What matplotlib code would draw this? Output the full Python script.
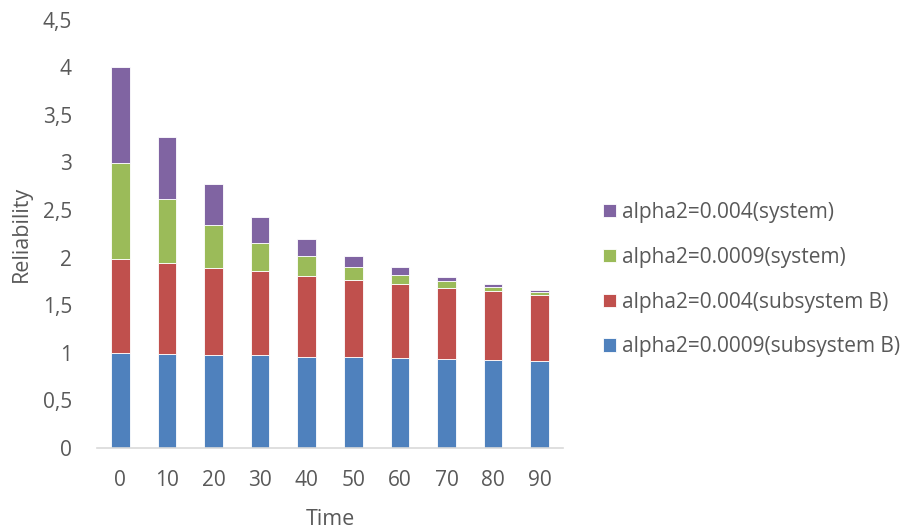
import matplotlib.pyplot as plt
import numpy as np
from matplotlib.ticker import FuncFormatter

plt.rcParams['font.family'] = ['Open Sans', 'DejaVu Sans']

times = [0, 10, 20, 30, 40, 50, 60, 70, 80, 90]

# reliability contributions, stacked bottom to top
sub_b_0009 = [0.995, 0.984, 0.977, 0.973, 0.956, 0.953, 0.942, 0.932, 0.921, 0.914]
sub_b_004 = [0.995, 0.962, 0.917, 0.883, 0.854, 0.815, 0.784, 0.752, 0.725, 0.693]
sys_0009 = [1.000, 0.670, 0.452, 0.297, 0.204, 0.136, 0.091, 0.066, 0.042, 0.035]
sys_004 = [1.010, 0.654, 0.427, 0.277, 0.181, 0.116, 0.081, 0.046, 0.035, 0.021]

series = [
    (sub_b_0009, "#4F81BD", "alpha2=0.0009(subsystem B)"),
    (sub_b_004, "#C0504D", "alpha2=0.004(subsystem B)"),
    (sys_0009, "#9BBB59", "alpha2=0.0009(system)"),
    (sys_004, "#8064A2", "alpha2=0.004(system)"),
]

fig = plt.figure(figsize=(9.04, 5.32), dpi=100)
ax = fig.add_axes([0.1073, 0.158, 0.5155, 0.805])

x = np.arange(len(times))
bottom = np.zeros(len(times))
handles = []
for vals, color, label in series:
    b = ax.bar(x, vals, 0.4, bottom=bottom, color=color, edgecolor="#ffffff",
               linewidth=0.6, label=label)
    handles.append(b)
    bottom += np.array(vals)

ax.set_xlim(-0.5, len(times) - 0.5)
ax.set_ylim(0, 4.5)
ax.set_yticks(np.arange(0, 4.51, 0.5))
ax.yaxis.set_major_formatter(FuncFormatter(lambda v, p: f"{v:g}".replace(".", ",")))
ax.set_xticks(x)
ax.set_xticklabels([str(t) for t in times])

for side in ["top", "right", "left"]:
    ax.spines[side].set_visible(False)
ax.spines["bottom"].set_color("#d9d9d9")
ax.spines["bottom"].set_linewidth(1.2)
ax.tick_params(length=0, labelsize=15, colors="#595959")
ax.tick_params(axis="y", pad=18)
ax.tick_params(axis="x", pad=16)

ax.set_xlabel("Time", fontsize=15.5, color="#595959", labelpad=13)
ax.set_ylabel("Reliability", fontsize=15.5, color="#595959", labelpad=8)

leg = ax.legend(handles[::-1], [h.get_label() for h in handles[::-1]],
                loc="center left", bbox_to_anchor=(1.086, 0.393), frameon=False,
                fontsize=15, handlelength=0.6, handleheight=0.6, handletextpad=0.3,
                labelspacing=1.14, borderpad=0, borderaxespad=0,
                labelcolor="#595959")

fig.savefig("out.png", dpi=100)
